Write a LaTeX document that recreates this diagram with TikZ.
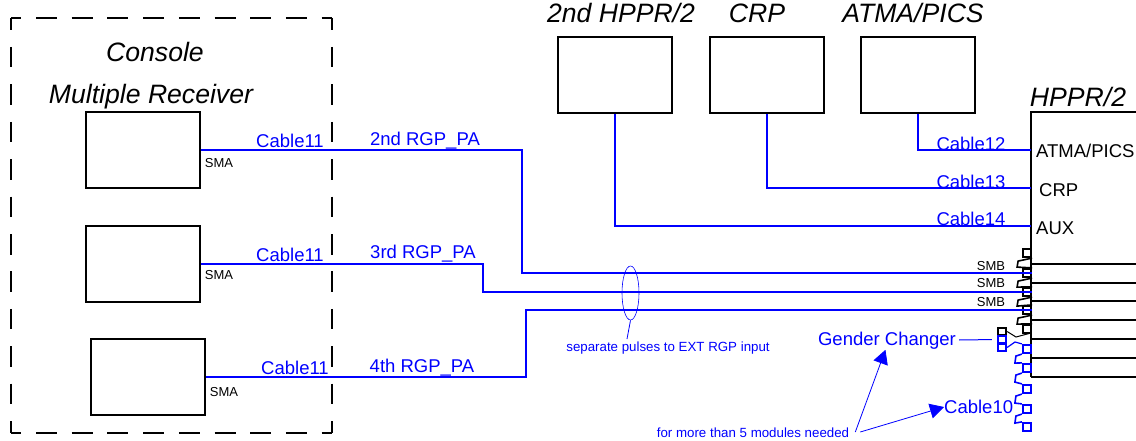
\documentclass[tikz,border=0pt]{standalone}
\usepackage{fontspec}
\setmainfont{Liberation Sans}
\usetikzlibrary{arrows.meta,shapes.geometric}
\tikzset{
	rxbox/.style={draw,line width=1.8pt,minimum width=114pt,minimum height=76pt,inner sep=0pt},
	wire/.style={blue,line width=2.2pt},
	thin wire/.style={blue,line width=0.8pt},
	port/.style={draw,line width=2.2pt,minimum size=8pt,inner sep=0pt},
	blue port/.style={port,blue},
	title/.style={font=\fontsize{26.6}{28}\selectfont\itshape,inner sep=0pt},
	cable/.style={blue,font=\fontsize{18.5}{20}\selectfont,inner sep=0pt},
	pin/.style={font=\fontsize{18.5}{20}\selectfont,inner sep=0pt},
	small/.style={font=\fontsize{13}{15}\selectfont,inner sep=0pt},
	note/.style={small,blue,font=\fontsize{13.3}{15}\selectfont}
}
\begin{document}
\begin{tikzpicture}[x=1pt,y=-1pt]
	\useasboundingbox (0,0) rectangle (1136,441);

	% console frame
	\foreach \y in {18,433}{
		\draw[line width=1.8pt,dash pattern=on 21pt off 14.7pt,dash phase=10.7pt] (11,\y) -- (332,\y);
	}
	\foreach \x in {11,332}{
		\draw[line width=1.8pt,dash pattern=on 20.5pt off 16.9pt,dash phase=8.4pt] (\x,18) -- (\x,433);
	}
	\node[title] (console) at (155,52) {Console};
	\node[title] (receiver) at (151,97) {Multiple Receiver};

	\node[rxbox] (rx1) at (143,150) {};
	\node[rxbox] (rx2) at (143,264) {};
	\node[rxbox] (rx3) at (148,377) {};

	\node[rxbox] (second) at (615,75) {};
	\node[rxbox] (crp) at (767,75) {};
	\node[rxbox] (atma) at (918,75) {};
	\node[title] (secondname) at (621,13) {2nd HPPR/2};
	\node[title] (crpname) at (757,13) {CRP};
	\node[title] (atmaname) at (913,13) {ATMA/PICS};
	\node[title] (hpprname) at (1078,97) {HPPR/2};

	% HPPR/2 module
	\coordinate (hpprtop) at (1031,112);
	\coordinate (hpprbot) at (1031,377);
	\draw[line width=1.8pt] (1136,112) -- (hpprtop) -- (hpprbot);
	\foreach \y in {264,283,301,320,339,358,377}{
		\draw[line width=1.8pt] (1031,\y) -- (1136,\y);
	}
	\coordinate (portatma) at (1031,150);
	\coordinate (portcrp) at (1031,188);
	\coordinate (portaux) at (1031,226);
	\node[pin,anchor=west] (atmapin) at (1036,151) {ATMA/PICS};
	\node[pin,anchor=west] (crppin) at (1039,190) {CRP};
	\node[pin,anchor=west] (auxpin) at (1036,228) {AUX};

	% bends of the pulse lines
	\coordinate (bend1) at (522,200);
	\coordinate (bend2) at (483,280);
	\coordinate (bend3) at (526,340);

	% connector chain
	\foreach \name/\y in {a/253,b/273,c/292,d/310,e/329}{
		\node[port] (\name) at (1027,\y) {};
	}
	\foreach \name/\y in {f/349,g/368,h/389,i/409,j/427}{
		\node[blue port] (\name) at (1027,\y) {};
	}
	\foreach \from/\to in {a/b,b/c,c/d,d/e}{
		\draw[line width=1.6pt] (\from.south east) -- ++(-14,3) -- ++(-1,6) -- (\to.north east);
	}
	\foreach \from/\to in {f/g,g/h,h/i,i/j}{
		\draw[blue,line width=1.6pt] (\from.south west) -- ++(-6,2) -- ++(-1,7) -- (\to.north west);
	}

	\draw[wire] (rx1.east) -| (bend1) |- (b.east);
	\draw[wire] (rx2.east) -| (bend2) |- (c.east);
	\draw[wire] (rx3.east) -| (bend3) |- (d.east);
	\draw[wire] (second.south) |- (portaux);
	\draw[wire] (crp.south) |- (portcrp);
	\draw[wire] (atma.south) |- (portatma);

	\foreach \x/\y/\t in {290/141/Cable11,290/255/Cable11,295/368/Cable11,971/144/Cable12,971/182/Cable13,971/219/Cable14}{
		\node[cable] at (\x,\y) {\t};
	}
	\node[cable] (first) at (425,141) {2nd RGP\_PA};
	\node[cable] (third) at (423,254) {3rd RGP\_PA};
	\node[cable] (fourth) at (422,368) {4th RGP\_PA};

	\foreach \x/\y in {219/163,219/275,224/392}{
		\node[small] at (\x,\y) {SMA};
	}
	\foreach \y in {266,283,302}{
		\node[small] at (991,\y) {SMB};
	}

	% gender changer
	\node[port,minimum height=7pt] (gblack) at (1002,331.5) {};
	\node[blue port,minimum height=7pt] (gblue1) at (1002,339.5) {};
	\node[blue port,minimum height=7pt] (gblue2) at (1002,347.5) {};
	\draw[line width=1pt] (gblack.east) -- (1016,337) -- (1031,333);
	\draw[blue,line width=1.2pt] (gblue2.east) -- (1015,342) -- (f.north west);
	\node[cable] (gender) at (887,341) {Gender Changer};
	\draw[thin wire,line width=1pt,shorten >=5pt] (gender.east) ++(3,-1) -- (gblue1.west);

	\node[cable,anchor=west] (cableten) at (944,407) {Cable10};

	% notes
	\node[ellipse,draw=blue,line width=0.6pt,minimum width=17pt,minimum height=54pt,inner sep=0pt] (pulses) at (630.5,293) {};
	\node[note] (pulsenote) at (668,348) {separate pulses to EXT RGP input};
	\draw[thin wire] (pulses.south) -- (627,339);
	\node[note] (modules) at (753,433) {for more than 5 modules needed};
	\draw[thin wire,-{Triangle[length=14pt,width=15pt]}] (modules.east) ++(6,-1) -- (gender.-100);
	\draw[thin wire,-{Triangle[length=14pt,width=15pt]}] (modules.east) ++(11,-1) -- (cableten.west);
\end{tikzpicture}
\end{document}
